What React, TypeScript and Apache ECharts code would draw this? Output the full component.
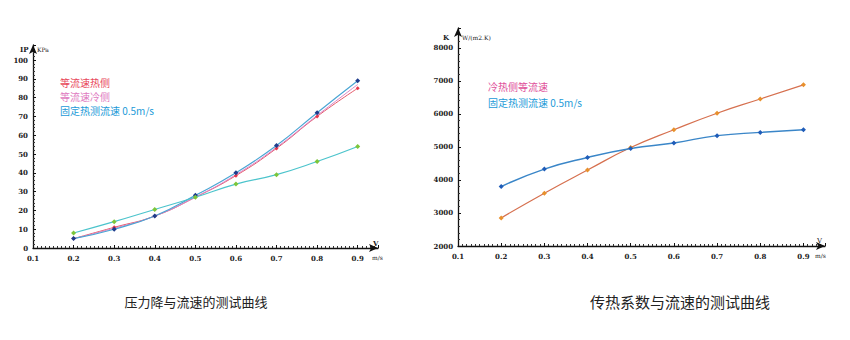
import React, { useEffect, useRef } from "react";
import * as echarts from "echarts";

// ---- data ----
const velocities = [0.2, 0.3, 0.4, 0.5, 0.6, 0.7, 0.8, 0.9];
const xTickLabels = ["0.1", "0.2", "0.3", "0.4", "0.5", "0.6", "0.7", "0.8", "0.9"];

// pressure drop chart (KPa)
const dpHotSide = [5, 11, 17, 27, 38.5, 53, 70, 85];
const dpColdSide = [5, 10.5, 17, 27, 39, 53.5, 70.5, 87];
const dpFitted = [5, 10, 17, 28, 40, 54.5, 72, 89];
const dpFixedHot = [8, 14, 20.5, 27, 34, 39, 46, 54];

// heat transfer coefficient chart (W/(m2.K))
const kEqualFlow = [2850, 3600, 4300, 4980, 5520, 6020, 6450, 6880];
const kFixedHot = [3800, 4330, 4680, 4950, 5120, 5340, 5440, 5520];

const leftLegendNames = ["等流速热侧", "等流速冷侧", "固定热测流速 0.5m/s"];
const rightLegendNames = ["冷热侧等流速", "固定热测流速 0.5m/s "];
const captions = ["压力降与流速的测试曲线", "传热系数与流速的测试曲线"];

const pts = (ys: number[]) => velocities.map((x, i) => [x, ys[i]]);

const axisFont = { fontFamily: "DejaVu Serif", fontWeight: "bold" as const, fontSize: 7, color: "#222" };

function xAxisCfg(gridIndex: number) {
  return {
    type: "value",
    gridIndex,
    min: 0.1,
    max: 0.95,
    interval: 0.1,
    axisLine: { show: true, lineStyle: { color: "#111", width: 1.3 }, symbol: ["none", "arrow"], symbolSize: [6, 9] },
    axisTick: { show: true, length: 3, inside: true, lineStyle: { color: "#111" } },
    minorTick: { show: true, splitNumber: 10, length: 2, lineStyle: { color: "#333" } },
    splitLine: { show: false },
    axisLabel: {
      ...axisFont,
      margin: 7,
      formatter: (v: number) => {
        const idx = Math.round(v * 10) - 1;
        return v > 0.91 ? "" : xTickLabels[idx] ?? "";
      },
    },
  };
}

function yAxisCfg(gridIndex: number, min: number, max: number, interval: number, top: number) {
  return {
    type: "value",
    gridIndex,
    min,
    max,
    interval,
    axisLine: { show: true, lineStyle: { color: "#111", width: 1.3 }, symbol: ["none", "arrow"], symbolSize: [6, 9] },
    axisTick: { show: true, length: 3, inside: true, lineStyle: { color: "#111" } },
    minorTick: { show: true, splitNumber: 5, length: 2, lineStyle: { color: "#333" } },
    splitLine: { show: false },
    axisLabel: {
      ...axisFont,
      margin: 5,
      formatter: (v: number) => (v > top ? "" : String(v)),
    },
  };
}

function lineSeries(
  name: string,
  data: number[],
  xi: number,
  lineColor: string,
  markColor: string,
  width = 1.2,
  symbol = "diamond",
  size = 5
) {
  return {
    name,
    type: "line",
    xAxisIndex: xi,
    yAxisIndex: xi,
    data: pts(data),
    smooth: true,
    symbol,
    symbolSize: size,
    lineStyle: { color: lineColor, width },
    itemStyle: { color: markColor },
    z: 3,
  };
}

const smallText = (x: number, y: number, text: string, extra: any = {}) => ({
  type: "text",
  x,
  y,
  style: { text, fill: "#222", font: "bold 7px 'DejaVu Serif'", textVerticalAlign: "middle", ...extra },
});

export default function App() {
  const ref = useRef<HTMLDivElement>(null);

  useEffect(() => {
    if (!ref.current) return;
    const chart = echarts.init(ref.current, undefined, { renderer: "svg" });
    const legendFont = { fontFamily: "'Noto Sans CJK SC'", fontSize: 10, lineHeight: 11 };
    chart.setOption({
      animation: false,
      backgroundColor: "#fff",
      grid: [
        { left: 33, right: 472, top: 45, bottom: 92 },
        { left: 458, right: 25, top: 28, bottom: 94 },
      ],
      xAxis: [xAxisCfg(0), xAxisCfg(1)],
      yAxis: [yAxisCfg(0, 0, 108, 10, 100), yAxisCfg(1, 2000, 8600, 1000, 8000)],
      legend: [
        {
          left: 55,
          top: 77,
          orient: "vertical",
          itemWidth: 0,
          itemHeight: 0,
          itemGap: 3,
          padding: 0,
          icon: "rect",
          selectedMode: false,
          data: [
            { name: leftLegendNames[0], textStyle: { ...legendFont, color: "#e8475a" } },
            { name: leftLegendNames[1], textStyle: { ...legendFont, color: "#e07ac0" } },
            { name: leftLegendNames[2], textStyle: { ...legendFont, color: "#1b9ad8" } },
          ],
        },
        {
          left: 483,
          top: 81,
          orient: "vertical",
          itemWidth: 0,
          itemHeight: 0,
          itemGap: 5,
          padding: 0,
          icon: "rect",
          selectedMode: false,
          data: [
            { name: rightLegendNames[0], textStyle: { ...legendFont, color: "#e0509a" } },
            { name: rightLegendNames[1], textStyle: { ...legendFont, color: "#1b9ad8" } },
          ],
        },
      ],
      series: [
        lineSeries(leftLegendNames[0], dpHotSide, 0, "#e55a6a", "#e8384c", 1, "diamond", 4),
        lineSeries(leftLegendNames[1], dpColdSide, 0, "#d984c4", "#d984c4", 1, "none", 3),
        lineSeries("拟合", dpFitted, 0, "#4aa6d4", "#1f3c8c", 1.2, "diamond", 5),
        lineSeries(leftLegendNames[2], dpFixedHot, 0, "#4cc4cc", "#7cc63a", 1.2, "diamond", 5),
        lineSeries(rightLegendNames[0], kEqualFlow, 1, "#d6704f", "#e8902c", 1.2, "diamond", 5),
        lineSeries(rightLegendNames[1], kFixedHot, 1, "#3a86c8", "#1f5cb8", 1.4, "diamond", 5),
      ],
      graphic: [
        smallText(20, 49, "IP"),
        smallText(37, 49, "KPa", { font: "6px 'DejaVu Serif'" }),
        smallText(373, 243, "V"),
        smallText(372, 257, "m/s", { font: "6px 'DejaVu Serif'" }),
        smallText(443, 37, "K"),
        smallText(462, 37, "W/(m2.K)", { font: "6px 'DejaVu Serif'" }),
        smallText(817, 241, "V", { font: "7px 'DejaVu Serif'" }),
        smallText(815, 255, "m/s", { font: "6px 'DejaVu Serif'" }),
        {
          type: "text",
          x: 196,
          y: 301,
          style: {
            text: captions[0],
            fill: "#222",
            font: "13px 'Noto Sans CJK SC'",
            textAlign: "center",
            textVerticalAlign: "middle",
          },
        },
        {
          type: "text",
          x: 680,
          y: 301,
          style: {
            text: captions[1],
            fill: "#222",
            font: "15px 'Noto Sans CJK SC'",
            textAlign: "center",
            textVerticalAlign: "middle",
          },
        },
      ],
    });
    return () => chart.dispose();
  }, []);

  return (
    <div
      ref={ref}
      style={{ position: "fixed", left: 0, top: 0, width: 850, height: 340, background: "#fff" }}
    />
  );
}
